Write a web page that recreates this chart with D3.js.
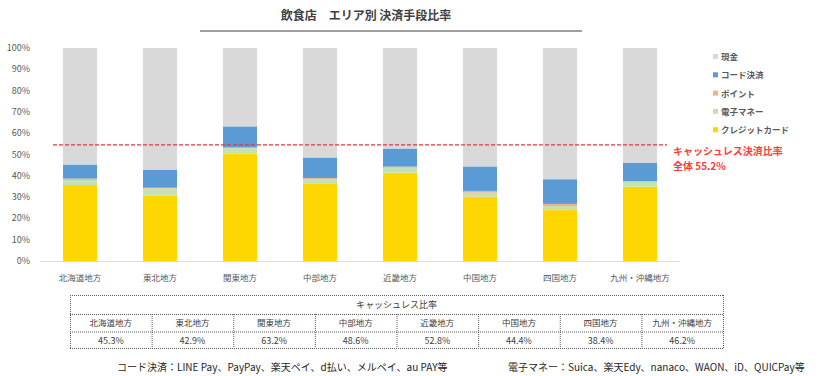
<!DOCTYPE html>
<html>
<head>
<meta charset="utf-8">
<script src="https://cdn.jsdelivr.net/npm/d3@7"></script>
<style>
  body { margin: 0; background: #fff; }
  svg text { font-family: "Noto Sans CJK JP", "Noto Sans", sans-serif; }
</style>
</head>
<body>
<div id="chart"></div>
<script>
// data
const regions = ["北海道地方", "東北地方", "関東地方", "中部地方", "近畿地方", "中国地方", "四国地方", "九州・沖縄地方"];
const seriesNames = ["クレジットカード", "電子マネー", "ポイント", "コード決済", "現金"];
const credit = [35.7, 30.8, 50.5, 36.2, 41.5, 30.2, 23.9, 34.9];
const emoney = [2.3, 3.3, 2.5, 2.2, 2.3, 1.9, 1.9, 2.3];
const point = [0.7, 0.3, 0.3, 0.5, 0.5, 0.8, 1.0, 0.3];
const code = [6.6, 8.5, 9.9, 9.7, 8.5, 11.5, 11.6, 8.7];
const cashlessRate = ["45.3%", "42.9%", "63.2%", "48.6%", "52.8%", "44.4%", "38.4%", "46.2%"];
const overallRate = 55.2;
const yTicks = [0, 10, 20, 30, 40, 50, 60, 70, 80, 90, 100];
const legendOrder = ["現金", "コード決済", "ポイント", "電子マネー", "クレジットカード"];
const notes = ["コード決済：LINE Pay、PayPay、楽天ペイ、d払い、メルペイ、au PAY等", "電子マネー：Suica、楽天Edy、nanaco、WAON、iD、QUICPay等"];

const colors = {
    "現金": "#d9d9d9",
    "コード決済": "#5b9bd5",
    "ポイント": "#f4b183",
    "電子マネー": "#c5e0b4",
    "クレジットカード": "#ffd700"
};

const width = 820, height = 376;

const svg = d3.select("#chart").append("svg")
    .attr("width", width)
    .attr("height", height);

// title
svg.append("text")
    .attr("x", 366).attr("y", 20)
    .attr("text-anchor", "middle")
    .style("font-size", "12px")
    .style("font-weight", "bold")
    .attr("fill", "#404040")
    .text("飲食店　エリア別 決済手段比率");

svg.append("line")
    .attr("x1", 200).attr("x2", 582)
    .attr("y1", 31).attr("y2", 31)
    .attr("stroke", "#404040").attr("stroke-width", 1);

// scales
const x = d3.scaleBand().domain(regions).range([40, 680]).paddingInner(0.575).paddingOuter(0.2875);
const y = d3.scaleLinear().domain([0, 100]).range([261, 48]);

// stacked data
const rows = regions.map((r, i) => {
    const c = credit[i], e = emoney[i], p = point[i], k = code[i];
    return {
        region: r,
        "クレジットカード": c,
        "電子マネー": e,
        "ポイント": p,
        "コード決済": k,
        "現金": 100 - c - e - p - k
    };
});

const stack = d3.stack().keys(seriesNames);
const layers = stack(rows);

// y axis labels
svg.append("g").selectAll("text")
    .data(yTicks)
    .enter().append("text")
    .attr("x", 30)
    .attr("y", d => y(d) + 3)
    .attr("text-anchor", "end")
    .style("font-size", "9px")
    .attr("fill", "#595959")
    .text(d => d + "%");

// bars
svg.append("g").selectAll("g")
    .data(layers)
    .enter().append("g")
    .attr("fill", d => colors[d.key])
    .selectAll("rect")
    .data(d => d)
    .enter().append("rect")
    .attr("x", d => x(d.data.region))
    .attr("width", x.bandwidth())
    .attr("y", d => y(d[1]))
    .attr("height", d => y(d[0]) - y(d[1]));

// x axis line
svg.append("line")
    .attr("x1", 40).attr("x2", 680)
    .attr("y1", y(0) + 0.5).attr("y2", y(0) + 0.5)
    .attr("stroke", "#d9d9d9");

svg.append("g").selectAll("text")
    .data(regions)
    .enter().append("text")
    .attr("x", d => x(d) + x.bandwidth() / 2)
    .attr("y", 281)
    .attr("text-anchor", "middle")
    .style("font-size", "8.5px")
    .attr("fill", "#595959")
    .text(d => d);

// overall cashless line
svg.append("line")
    .attr("x1", 53).attr("x2", 667)
    .attr("y1", y(overallRate) + 1.5).attr("y2", y(overallRate) + 1.5)
    .attr("stroke", "#e0393e")
    .attr("stroke-width", 1.3)
    .attr("stroke-dasharray", "4,2");

svg.append("text")
    .attr("x", 673).attr("y", 155)
    .style("font-size", "10px")
    .style("font-weight", "bold")
    .attr("fill", "#ff3b3b")
    .text("キャッシュレス決済比率");

svg.append("text")
    .attr("x", 673).attr("y", 170)
    .style("font-size", "10px")
    .style("font-weight", "bold")
    .attr("fill", "#ff3b3b")
    .text("全体 " + overallRate + "%");

// legend
const legend = svg.append("g").selectAll("g")
    .data(legendOrder)
    .enter().append("g")
    .attr("transform", (d, i) => `translate(713, ${57 + i * 18.3})`);

legend.append("rect")
    .attr("x", 0).attr("y", -3)
    .attr("width", 5).attr("height", 5)
    .attr("fill", d => colors[d]);

legend.append("text")
    .attr("x", 8).attr("y", 3)
    .style("font-size", "8.5px")
    .style("font-weight", "bold")
    .attr("fill", "#595959")
    .text(d => d);

// cashless table
const tLeft = 70, tRight = 723;
const rowY = [295, 314, 331.5, 348];
const colW = (tRight - tLeft) / regions.length;
const table = svg.append("g");

function tline(x1, y1, x2, y2) {
    table.append("line")
        .attr("x1", x1).attr("y1", y1).attr("x2", x2).attr("y2", y2)
        .attr("stroke", "#595959")
        .attr("stroke-dasharray", "1,1");
}

rowY.forEach(yy => tline(tLeft, yy + 0.5, tRight, yy + 0.5));
tline(tLeft + 0.5, rowY[0], tLeft + 0.5, rowY[3]);
tline(tRight + 0.5, rowY[0], tRight + 0.5, rowY[3]);
d3.range(1, regions.length).forEach(i => tline(tLeft + i * colW + 0.5, rowY[1], tLeft + i * colW + 0.5, rowY[3]));

table.append("text")
    .attr("x", (tLeft + tRight) / 2).attr("y", rowY[0] + 13)
    .attr("text-anchor", "middle")
    .style("font-size", "9px")
    .attr("fill", "#404040")
    .text("キャッシュレス比率");

table.selectAll(".tname")
    .data(regions)
    .enter().append("text")
    .attr("class", "tname")
    .attr("x", (d, i) => tLeft + (i + 0.5) * colW)
    .attr("y", rowY[1] + 12)
    .attr("text-anchor", "middle")
    .style("font-size", "8.5px")
    .attr("fill", "#404040")
    .text(d => d);

table.selectAll(".tval")
    .data(cashlessRate)
    .enter().append("text")
    .attr("class", "tval")
    .attr("x", (d, i) => tLeft + (i + 0.5) * colW)
    .attr("y", rowY[2] + 12)
    .attr("text-anchor", "middle")
    .style("font-size", "9px")
    .attr("fill", "#404040")
    .text(d => d);

// footnotes
svg.append("text")
    .attr("x", 117).attr("y", 371)
    .style("font-size", "10px")
    .attr("fill", "#262626")
    .text(notes[0]);

svg.append("text")
    .attr("x", 508).attr("y", 371)
    .style("font-size", "10px")
    .attr("fill", "#262626")
    .text(notes[1]);
</script>
</body>
</html>
